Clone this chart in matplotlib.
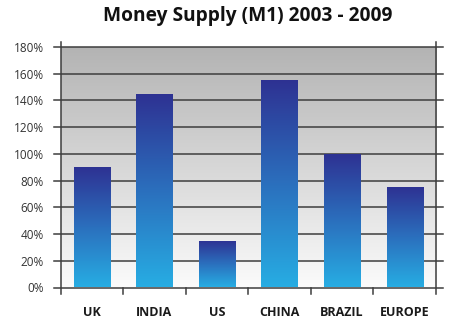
import numpy as np
import matplotlib.pyplot as plt
from matplotlib.colors import LinearSegmentedColormap

countries = ["UK", "INDIA", "US", "CHINA", "BRAZIL", "EUROPE"]
growth = [90, 145, 35, 155, 100, 75]  # % change in M1
yticks = list(range(0, 181, 20))

plt.rcParams['font.family'] = ['Open Sans', 'DejaVu Sans']

fig = plt.figure(figsize=(4.56, 3.27), dpi=100)
ax = fig.add_axes([60.5 / 456, 1 - 287.5 / 327, 375.5 / 456, 240.5 / 327])

x = np.arange(len(countries))
ax.set_xlim(-0.5, len(countries) - 0.5)
ax.set_ylim(0, 180)

# grey-to-white backdrop
bg = LinearSegmentedColormap.from_list("bg", ["#fbfbfb", "#b3b3b3"])
grad = np.linspace(0, 1, 256).reshape(-1, 1)
ax.imshow(grad, cmap=bg, origin="lower", aspect="auto",
          extent=(-0.5, len(countries) - 0.5, 0, 180), zorder=0)

# blue gradient bars
blue = LinearSegmentedColormap.from_list("blue", ["#27ade3", "#2b6fbd", "#2e3192"])
bars = ax.bar(x, growth, width=0.58, color="none", zorder=3)
for bar in bars:
    bx, by = bar.get_x(), bar.get_y()
    w, h = bar.get_width(), bar.get_height()
    im = ax.imshow(grad, cmap=blue, origin="lower", aspect="auto",
                   extent=(bx, bx + w, by, by + h), zorder=3)
    im.set_clip_path(bar)

ax.set_xlim(-0.5, len(countries) - 0.5)
ax.set_ylim(0, 180)

# gridlines reaching a little past both sides
line_col = "#3d3d3d"
for t in yticks:
    ax.plot([-0.61, len(countries) - 0.39], [t, t], color=line_col, lw=1.1,
            clip_on=False, zorder=2)
for xv in [-0.5, len(countries) - 0.5]:
    ax.plot([xv, xv], [-4.8, 184], color=line_col, lw=1.1, clip_on=False, zorder=4)
for xv in np.arange(0.5, len(countries) - 0.5, 1):
    ax.plot([xv, xv], [-4.8, 0], color=line_col, lw=1.1, clip_on=False, zorder=4)

for s in ax.spines.values():
    s.set_visible(False)

ax.set_yticks(yticks)
ax.set_yticklabels([f"{t}%" for t in yticks], fontsize=8.5, color="#333333")
ax.tick_params(axis="y", length=0, pad=12)
ax.set_xticks(x)
ax.set_xticklabels(countries, fontsize=9, fontweight="bold", color="#1a1a1a")
ax.tick_params(axis="x", length=0, pad=13)

# title centred over the plot area
fig.text(248 / 456, 1 - 16 / 327, "Money Supply (M1) 2003 - 2009", ha="center",
         va="center", fontsize=13.8, fontweight="bold", color="#111111")

fig.savefig("out.png", dpi=100)
